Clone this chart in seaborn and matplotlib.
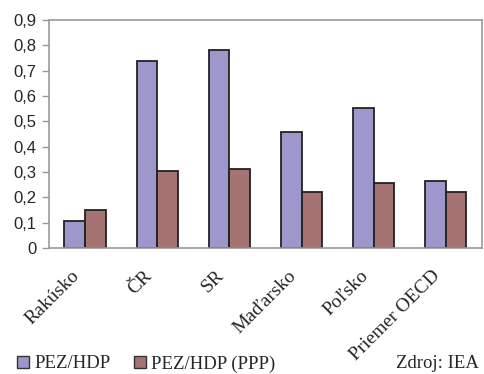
import matplotlib
matplotlib.use("Agg")
import matplotlib.pyplot as plt
import matplotlib.transforms as mtransforms
import seaborn as sns
import pandas as pd
import numpy as np
from matplotlib.patches import Patch

categories = ["Rakúsko", "ČR", "SR", "Maďarsko", "Poľsko", "Priemer OECD"]
series_names = ["PEZ/HDP", "PEZ/HDP (PPP)"]
pez_hdp = [0.108, 0.74, 0.78, 0.458, 0.553, 0.263]
pez_hdp_ppp = [0.15, 0.302, 0.31, 0.222, 0.257, 0.222]
y_ticks = [0, 0.1, 0.2, 0.3, 0.4, 0.5, 0.6, 0.7, 0.8, 0.9]
y_tick_labels = ["0", "0,1", "0,2", "0,3", "0,4", "0,5", "0,6", "0,7", "0,8", "0,9"]
source_text = "Zdroj: IEA"

colors = ["#9D97CB", "#A67373"]

df = pd.DataFrame({
    "kat": categories * 2,
    "val": pez_hdp + pez_hdp_ppp,
    "ser": [series_names[0]] * len(categories) + [series_names[1]] * len(categories),
})

sns.set_style("white")
fig = plt.figure(figsize=(4.84, 3.74), dpi=100)
ax = fig.add_axes([0.1012, 0.3369, 0.8947, 0.6096])

sns.barplot(data=df, x="kat", y="val", hue="ser", order=categories,
            hue_order=series_names, palette=colors, width=0.57,
            edgecolor="#222222", linewidth=1.3, saturation=1, ax=ax, legend=False)

ax.set_xlim(-0.5, len(categories) - 0.5)
ax.set_ylim(0, 0.9)
ax.set_yticks(y_ticks)
ax.set_yticklabels(y_tick_labels, family="Liberation Sans", fontsize=12)
ax.set_xticks(np.arange(-0.5, len(categories), 1.0))
ax.set_xticklabels([])
ax.tick_params(axis="x", which="major", length=5, color="#999999", width=1)
ax.tick_params(axis="y", which="major", length=5, color="#999999", width=1, left=True, pad=4)

# category labels, rotated, placed from the categorical scale
lab_tr = ax.get_xaxis_transform() + mtransforms.ScaledTranslation(-0.14, -0.19, fig.dpi_scale_trans)
for i, name in enumerate(categories):
    ax.text(i, 0, name, transform=lab_tr, rotation=45, ha="right", va="top",
            rotation_mode="anchor", family="Liberation Serif", fontsize=14,
            clip_on=False)

ax.set_xlabel("")
ax.set_ylabel("")
for s in ax.spines.values():
    s.set_visible(True)
    s.set_color("#999999")
    s.set_linewidth(1.2)

handles = [Patch(facecolor=c, edgecolor="#333333", linewidth=1.0) for c in colors]
fig.legend(handles, series_names, loc="lower left", bbox_to_anchor=(0.035, 0.004),
           ncol=2, frameon=False, handlelength=0.65, handleheight=0.65,
           handletextpad=0.3, columnspacing=1.2, borderpad=0, borderaxespad=0,
           prop={"family": "Liberation Serif", "size": 13.5})
fig.text(0.818, 0.016, source_text, family="Liberation Serif", fontsize=13.5)

fig.savefig("out.png", dpi=100)
